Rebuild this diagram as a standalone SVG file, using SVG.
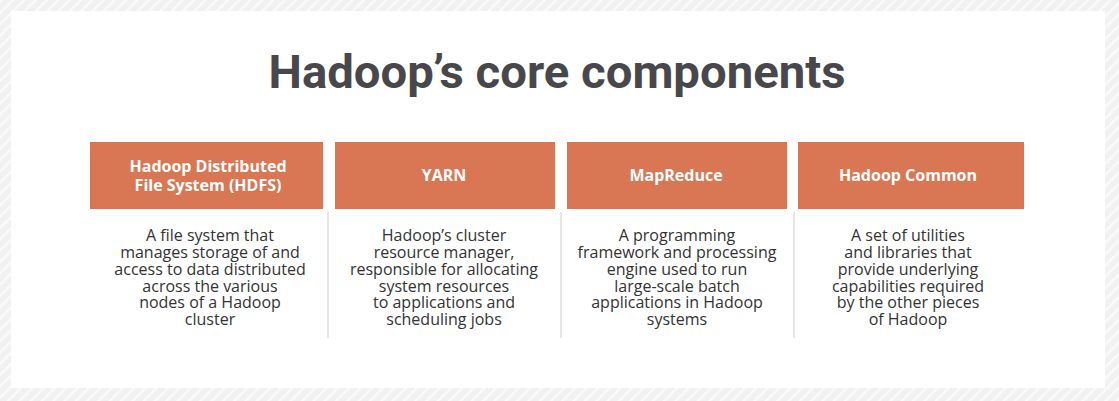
<svg xmlns="http://www.w3.org/2000/svg" width="1119" height="401" viewBox="0 0 1119 401">
<defs>
<pattern id="hatch" patternUnits="userSpaceOnUse" width="8" height="8" patternTransform="rotate(45)">
<rect width="8" height="8" fill="#f1f1f1"/>
<rect width="2.5" height="8" fill="#fafafa"/>
</pattern>
<style>
.hdr{fill:#d97754;stroke:#e2704a;stroke-width:1}
.ht{font-family:"Open Sans","Liberation Sans",sans-serif;font-weight:700;font-size:16px;fill:#ffffff;text-anchor:middle}
.dt{font-family:"Open Sans","Liberation Sans",sans-serif;font-size:16px;fill:#333333;text-anchor:middle}
.div{stroke:#dedede;stroke-width:1.5}
</style>
</defs>
<rect width="1119" height="401" fill="url(#hatch)"/>
<rect x="11" y="11" width="1094" height="377" fill="#ffffff"/>
<text x="557" y="88" font-family="Roboto,'Liberation Sans',sans-serif" font-weight="700" font-size="46" fill="#48484c" text-anchor="middle" textLength="577" lengthAdjust="spacingAndGlyphs">Hadoop’s core components</text>
<g id="connectors">
<line class="div" x1="328" y1="212" x2="328" y2="338"/>
<line class="div" x1="561" y1="212" x2="561" y2="338"/>
<line class="div" x1="794" y1="212" x2="794" y2="338"/>
</g>
<g id="hdfs">
<rect class="hdr" x="90.5" y="142.5" width="232" height="66"/>
<text class="ht" x="208" y="172">Hadoop Distributed</text>
<text class="ht" x="208" y="191">File System (HDFS)</text>
<text class="dt" x="210" y="241">A file system that</text>
<text class="dt" x="210" y="258">manages storage of and</text>
<text class="dt" x="210" y="275">access to data distributed</text>
<text class="dt" x="210" y="292">across the various</text>
<text class="dt" x="210" y="308">nodes of a Hadoop</text>
<text class="dt" x="210" y="325">cluster</text>
</g>
<g id="yarn">
<rect class="hdr" x="335.5" y="142.5" width="219" height="66"/>
<text class="ht" x="444" y="181">YARN</text>
<text class="dt" x="444" y="241">Hadoop’s cluster</text>
<text class="dt" x="444" y="258">resource manager,</text>
<text class="dt" x="444" y="275">responsible for allocating</text>
<text class="dt" x="444" y="292">system resources</text>
<text class="dt" x="444" y="308">to applications and</text>
<text class="dt" x="444" y="325">scheduling jobs</text>
</g>
<g id="mapreduce">
<rect class="hdr" x="567.5" y="142.5" width="219" height="66"/>
<text class="ht" x="676" y="181">MapReduce</text>
<text class="dt" x="677" y="241">A programming</text>
<text class="dt" x="677" y="258">framework and processing</text>
<text class="dt" x="677" y="275">engine used to run</text>
<text class="dt" x="677" y="292">large-scale batch</text>
<text class="dt" x="677" y="308">applications in Hadoop</text>
<text class="dt" x="677" y="325">systems</text>
</g>
<g id="common">
<rect class="hdr" x="798.5" y="142.5" width="225" height="66"/>
<text class="ht" x="908" y="181">Hadoop Common</text>
<text class="dt" x="908" y="241">A set of utilities</text>
<text class="dt" x="908" y="258">and libraries that</text>
<text class="dt" x="908" y="275">provide underlying</text>
<text class="dt" x="908" y="292">capabilities required</text>
<text class="dt" x="908" y="308">by the other pieces</text>
<text class="dt" x="908" y="325">of Hadoop</text>
</g>
</svg>
